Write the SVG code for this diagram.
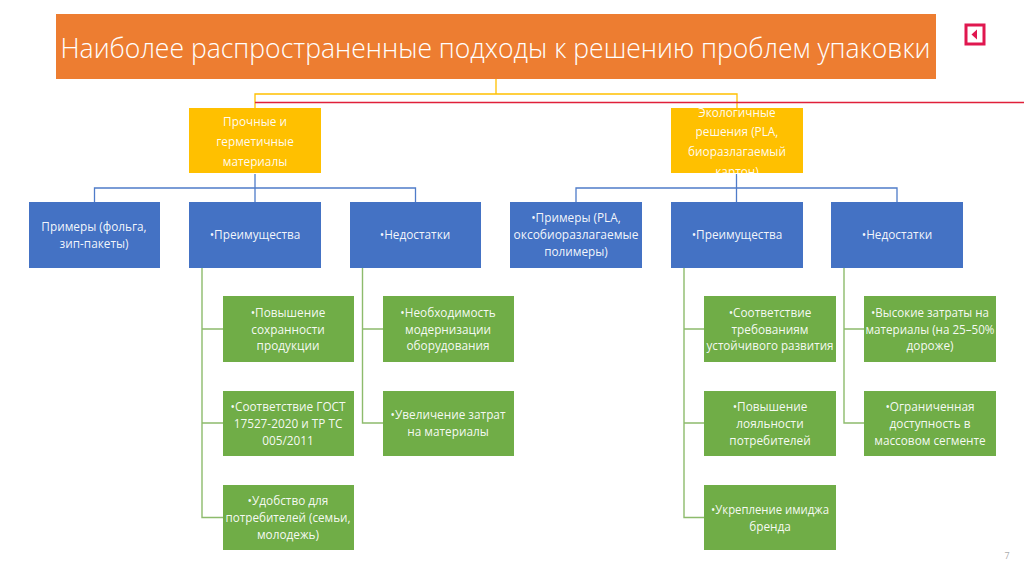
<svg xmlns="http://www.w3.org/2000/svg" width="1024" height="574" viewBox="0 0 1024 574">
<style>
text{font-family:"Open Sans","Noto Sans","Liberation Sans",sans-serif;fill:#fff;text-anchor:middle;font-size:11.8px;fill-opacity:.95}
.title{font-size:28px;font-weight:300;text-anchor:start;fill-opacity:1}
.o{fill:#ed7d31}.y{fill:#ffc000}.b{fill:#4472c4}.g{fill:#70ad47}
.cy{stroke:#ffc000;fill:none;stroke-width:1.3}.cb{stroke:#4f7cc9;fill:none;stroke-width:1.3}.cg{stroke:#8dbb6c;fill:none;stroke-width:1.4}
</style>
<rect width="1024" height="574" fill="#fff"/>
<g id="connectors">
<path class="cy" d="M496 79V94M255 108V94H737V108"/>
<path d="M255 102.500H1024" stroke="#e0203a" stroke-width="1.3" fill="none"/>
<path class="cb" d="M255 174V203M94.500 202V188H415.500V202"/>
<path class="cb" d="M736.500 174V203M576 202V188H897V202"/>
<path class="cg" d="M202 268V517.500H223M202 329H223M202 423H223"/>
<path class="cg" d="M362.500 268V423H383M362.500 329H383"/>
<path class="cg" d="M684 268V517.500H704M684 329H704M684 423H704"/>
<path class="cg" d="M844 268V423H864M844 329H864"/>
</g>
<g id="title"><rect class="o" x="56" y="14" width="880" height="65"/><text class="title" x="60.500" y="58" textLength="870" lengthAdjust="spacingAndGlyphs">Наиболее распространенные подходы к решению проблем упаковки</text></g>
<g id="icon"><rect x="966" y="25" width="18" height="19" fill="#fff" stroke="#e0174f" stroke-width="3"/><path d="M977 29.500L971.500 34.500L977 39.500Z" fill="#e0174f"/></g>
<g id="n1"><rect class="y" x="189" y="108" width="132" height="65"/><text x="255" y="126">Прочные и</text><text x="255" y="146">герметичные</text><text x="255" y="166">материалы</text></g>
<g id="n2"><rect class="y" x="671" y="108" width="132" height="65"/><text x="737" y="117">Экологичные</text><text x="737" y="136">решения (PLA,</text><text x="737" y="156">биоразлагаемый</text><text x="737" y="176">картон)</text></g>
<g id="n3"><rect class="b" x="29" y="202" width="131" height="66"/><text x="94" y="231">Примеры (фольга,</text><text x="94" y="248">зип-пакеты)</text></g>
<g id="n4"><rect class="b" x="189" y="202" width="132" height="66"/><text x="255" y="239">•Преимущества</text></g>
<g id="n5"><rect class="b" x="350" y="202" width="131" height="66"/><text x="415" y="239">•Недостатки</text></g>
<g id="n6"><rect class="b" x="510" y="202" width="132" height="66"/><text x="576" y="222">•Примеры (PLA,</text><text x="576" y="239" textLength="125" lengthAdjust="spacingAndGlyphs">оксобиоразлагаемые</text><text x="576" y="256">полимеры)</text></g>
<g id="n7"><rect class="b" x="671" y="202" width="132" height="66"/><text x="737" y="239">•Преимущества</text></g>
<g id="n8"><rect class="b" x="831" y="202" width="132" height="66"/><text x="897" y="239">•Недостатки</text></g>
<g id="n9"><rect class="g" x="223" y="296" width="131" height="66"/><text x="288" y="317">•Повышение</text><text x="288" y="334">сохранности</text><text x="288" y="350">продукции</text></g>
<g id="n10"><rect class="g" x="223" y="391" width="131" height="65"/><text x="288" y="411">•Соответствие ГОСТ</text><text x="288" y="428">17527-2020 и ТР ТС</text><text x="288" y="445">005/2011</text></g>
<g id="n11"><rect class="g" x="223" y="485" width="131" height="65"/><text x="288" y="505">•Удобство для</text><text x="288" y="522" textLength="125" lengthAdjust="spacingAndGlyphs">потребителей (семьи,</text><text x="288" y="539">молодежь)</text></g>
<g id="n12"><rect class="g" x="383" y="296" width="131" height="66"/><text x="448" y="317">•Необходимость</text><text x="448" y="334">модернизации</text><text x="448" y="350">оборудования</text></g>
<g id="n13"><rect class="g" x="383" y="391" width="131" height="65"/><text x="448" y="419">•Увеличение затрат</text><text x="448" y="436">на материалы</text></g>
<g id="n14"><rect class="g" x="704" y="296" width="132" height="66"/><text x="770" y="317">•Соответствие</text><text x="770" y="334">требованиям</text><text x="770" y="350" textLength="127" lengthAdjust="spacingAndGlyphs">устойчивого развития</text></g>
<g id="n15"><rect class="g" x="704" y="391" width="132" height="65"/><text x="770" y="411">•Повышение</text><text x="770" y="428">лояльности</text><text x="770" y="445">потребителей</text></g>
<g id="n16"><rect class="g" x="704" y="485" width="132" height="65"/><text x="770" y="514" textLength="118" lengthAdjust="spacingAndGlyphs">•Укрепление имиджа</text><text x="770" y="531">бренда</text></g>
<g id="n17"><rect class="g" x="864" y="296" width="132" height="66"/><text x="930" y="317" textLength="118" lengthAdjust="spacingAndGlyphs">•Высокие затраты на</text><text x="930" y="334" textLength="129" lengthAdjust="spacingAndGlyphs">материалы (на 25–50%</text><text x="930" y="350">дороже)</text></g>
<g id="n18"><rect class="g" x="864" y="391" width="132" height="65"/><text x="930" y="411">•Ограниченная</text><text x="930" y="428">доступность в</text><text x="930" y="445">массовом сегменте</text></g>
<text x="1007" y="559" style="fill:#a6a6a6;font-size:9px">7</text>
</svg>
